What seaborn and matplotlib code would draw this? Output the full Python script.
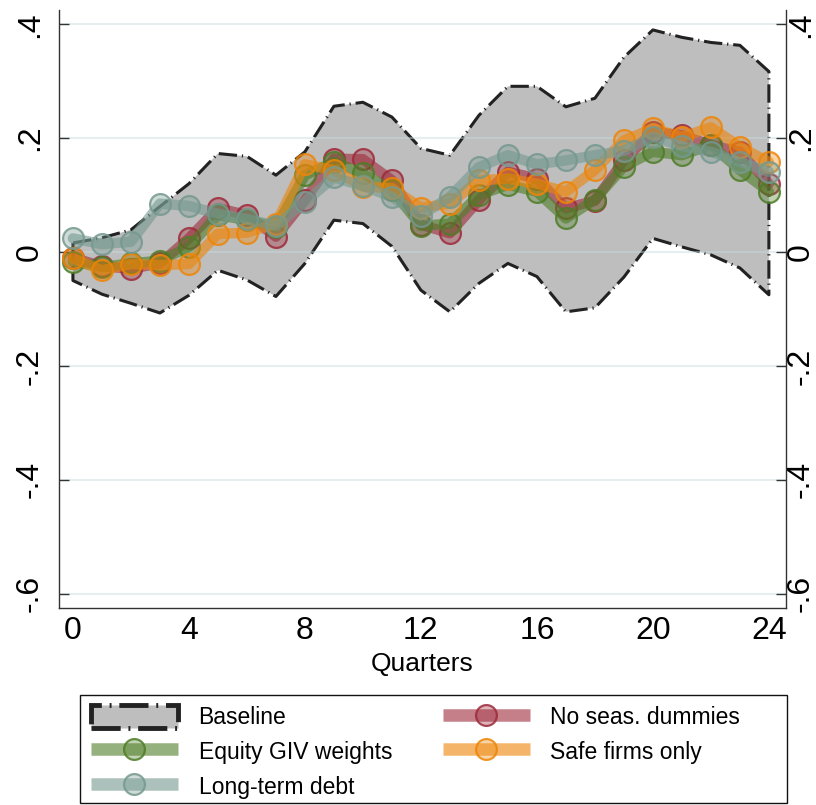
import matplotlib
matplotlib.use("Agg")
import matplotlib.pyplot as plt
from matplotlib.lines import Line2D
from matplotlib.patches import Patch, Rectangle
from matplotlib.colors import to_rgba
import seaborn as sns
import pandas as pd

quarters = list(range(25))
baseline_upper = [0.016, 0.025, 0.039, 0.080, 0.120, 0.173, 0.168, 0.135, 0.176, 0.256, 0.263, 0.237,
                  0.182, 0.170, 0.240, 0.291, 0.291, 0.255, 0.270, 0.342, 0.390, 0.377, 0.368, 0.363, 0.317]
baseline_lower = [-0.050, -0.074, -0.090, -0.107, -0.076, -0.032, -0.049, -0.078, -0.020, 0.056, 0.050, 0.010,
                  -0.067, -0.105, -0.055, -0.020, -0.043, -0.105, -0.098, -0.044, 0.024, 0.009, -0.005, -0.028, -0.075]
no_seas = [-0.010, -0.025, -0.029, -0.020, 0.024, 0.077, 0.065, 0.027, 0.091, 0.164, 0.163, 0.126,
           0.048, 0.033, 0.091, 0.141, 0.129, 0.077, 0.090, 0.161, 0.211, 0.205, 0.188, 0.176, 0.120]
equity_giv = [-0.017, -0.026, -0.020, -0.015, 0.009, 0.065, 0.056, 0.044, 0.135, 0.158, 0.138, 0.109,
              0.046, 0.050, 0.100, 0.118, 0.106, 0.059, 0.092, 0.150, 0.176, 0.170, 0.188, 0.144, 0.106]
long_term = [0.024, 0.014, 0.018, 0.085, 0.081, 0.067, 0.058, 0.046, 0.088, 0.131, 0.116, 0.097,
             0.064, 0.097, 0.149, 0.170, 0.154, 0.161, 0.170, 0.178, 0.202, 0.186, 0.176, 0.158, 0.141]
safe_firms = [-0.011, -0.032, -0.021, -0.023, -0.021, 0.032, 0.034, 0.050, 0.154, 0.144, 0.115, 0.112,
              0.078, 0.085, 0.126, 0.129, 0.120, 0.106, 0.144, 0.196, 0.217, 0.202, 0.219, 0.185, 0.158]

x_ticks = [0, 4, 8, 12, 16, 20, 24]
y_ticks = [-0.6, -0.4, -0.2, 0, 0.2, 0.4]
y_ticklabels = ["-.6", "-.4", "-.2", "0", ".2", ".4"]

labels = ["Baseline", "No seas. dummies", "Equity GIV weights", "Safe firms only", "Long-term debt"]
colors = {"No seas. dummies": "#9e2a3a", "Equity GIV weights": "#4e7d26",
          "Safe firms only": "#ee8508", "Long-term debt": "#75998f"}
series = {"No seas. dummies": no_seas, "Equity GIV weights": equity_giv,
          "Safe firms only": safe_firms, "Long-term debt": long_term}

sns.set_style("white")
plt.rcParams["font.family"] = ["Liberation Sans", "DejaVu Sans"]
plt.rcParams["text.color"] = "black"
plt.rcParams["axes.labelcolor"] = "black"
plt.rcParams["xtick.color"] = "black"
plt.rcParams["ytick.color"] = "black"

fig = plt.figure(figsize=(8.16, 8.05), dpi=100)
ax = fig.add_axes([59 / 816, 1 - 608 / 805, (786 - 59) / 816, (608 - 10) / 805])

band_ls = (0, (6, 1.6, 0.4, 1.6))
ax.fill_between(quarters, baseline_lower, baseline_upper, facecolor="#bebebe",
                edgecolor="#222222", linewidth=2.2, linestyle=band_ls, zorder=0.4)

df = pd.DataFrame({"q": quarters})
for name in ["No seas. dummies", "Equity GIV weights", "Safe firms only", "Long-term debt"]:
    c = colors[name]
    df[name] = series[name]
    sns.lineplot(data=df, x="q", y=name, ax=ax, color=to_rgba(c, 0.6), linewidth=7.5,
                 marker="o", markersize=15, markerfacecolor=to_rgba(c, 0.35),
                 markeredgecolor=to_rgba(c, 0.85), markeredgewidth=1.6, errorbar=None,
                 zorder=3)

ax.set_xlim(-0.48, 24.59)
ax.set_ylim(-0.625, 0.425)
ax.set_xticks(x_ticks)
ax.set_xticklabels([str(t) for t in x_ticks])
ax.set_yticks(y_ticks)
ax.set_yticklabels(y_ticklabels, rotation=90, va="center")
ax.set_xlabel("Quarters", fontsize=19, labelpad=4, color="black")
ax.set_ylabel("")

ax.grid(axis="y", color="#c8dadd", alpha=0.45, linewidth=1.5)
ax.set_axisbelow(True)
for s in ["left", "right", "bottom"]:
    ax.spines[s].set_visible(True)
    ax.spines[s].set_color("#333333")
    ax.spines[s].set_linewidth(1.0)
ax.spines["top"].set_visible(False)

ax.tick_params(axis="both", direction="in", length=7, width=1, color="#333333",
               labelsize=23, labelcolor="black")
ax.tick_params(axis="x", pad=6)
ax.tick_params(axis="y", pad=10)

ax2 = ax.twinx()
ax2.set_ylim(ax.get_ylim())
ax2.set_yticks(y_ticks)
ax2.set_yticklabels(y_ticklabels, rotation=90, va="center")
ax2.tick_params(axis="y", direction="in", length=7, width=1, color="#333333", labelsize=23,
                labelcolor="black", pad=0)
for s in ["left", "right", "bottom", "top"]:
    ax2.spines[s].set_visible(False)
ax2.grid(False)

# legend
handles = [Patch(facecolor="#bebebe", edgecolor="#222222", linewidth=3.5, linestyle=band_ls)]
for name in labels[1:]:
    c = colors[name]
    handles.append(Line2D([0], [0], color=to_rgba(c, 0.6), linewidth=9, marker="o", markersize=15,
                          markerfacecolor=to_rgba(c, 0.35), markeredgecolor=to_rgba(c, 0.85),
                          markeredgewidth=1.6, solid_capstyle="butt"))
order = [0, 2, 4, 1, 3]
leg = fig.legend([handles[i] for i in order], [labels[i] for i in order], ncol=2,
                 loc="upper left", bbox_to_anchor=(84 / 816, 1 - 698 / 805), frameon=False,
                 fontsize=16.5, handlelength=3.8, handleheight=1.2, handletextpad=0.9,
                 columnspacing=2.2, labelspacing=0.45, borderaxespad=0, borderpad=0.3)
for t in leg.get_texts():
    t.set_color("black")
fig.patches.append(Rectangle((80 / 816, 2 / 805), (787 - 80) / 816, (803 - 695) / 805,
                             transform=fig.transFigure, fill=False, edgecolor="#111111", linewidth=1.0))

fig.savefig("out.png", dpi=100)
